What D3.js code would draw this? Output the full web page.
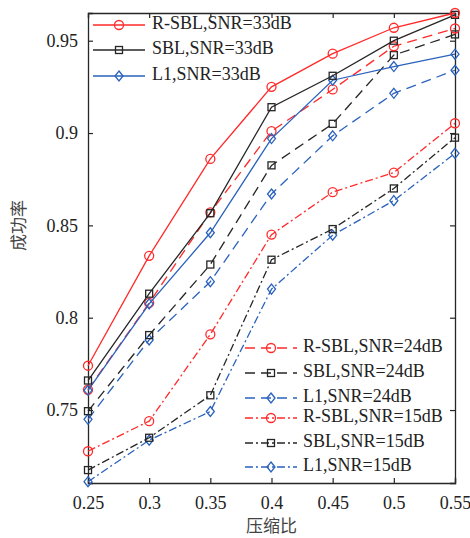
<!DOCTYPE html>
<html>
<head>
<meta charset="utf-8">
<script src="https://cdn.jsdelivr.net/npm/d3@7"></script>
<style>
  body { margin: 0; background: #fff; }
  text { font-family: "Liberation Serif", "Times New Roman", serif; }
</style>
</head>
<body>
<div id="chart"></div>
<script>
// Compression ratios on the x axis.
const ratios = [0.25, 0.3, 0.35, 0.4, 0.45, 0.5, 0.55];

// Success rate for each method / SNR.
const rsbl33 = [0.774, 0.8335, 0.886, 0.925, 0.943, 0.957, 0.965];
const sbl33 = [0.766, 0.813, 0.8566, 0.914, 0.931, 0.950, 0.964];
const l1_33 = [0.7607, 0.8075, 0.846, 0.897, 0.9286, 0.936, 0.9427];
const rsbl24 = [0.761, 0.808, 0.857, 0.901, 0.9236, 0.947, 0.9566];
const sbl24 = [0.7494, 0.7906, 0.8288, 0.8825, 0.905, 0.9422, 0.9534];
const l1_24 = [0.745, 0.788, 0.8195, 0.867, 0.8985, 0.9215, 0.934];
const rsbl15 = [0.7277, 0.744, 0.791, 0.845, 0.868, 0.8786, 0.9053];
const sbl15 = [0.7175, 0.735, 0.758, 0.8314, 0.848, 0.870, 0.8975];
const l1_15 = [0.7112, 0.7337, 0.7492, 0.8155, 0.8447, 0.8634, 0.889];

const xTicks = [0.25, 0.3, 0.35, 0.4, 0.45, 0.5, 0.55];
const yTicks = [0.75, 0.8, 0.85, 0.9, 0.95];

const RED = "#ff2a2a", BLACK = "#262626", BLUE = "#2a62bd";
const SOLID = null, DASH = "10,6", DASHDOT = "8,3,2,3";

const series = [
    { name: "R-SBL,SNR=33dB", values: rsbl33, color: RED, dash: SOLID, marker: "circle" },
    { name: "SBL,SNR=33dB", values: sbl33, color: BLACK, dash: SOLID, marker: "square" },
    { name: "L1,SNR=33dB", values: l1_33, color: BLUE, dash: SOLID, marker: "diamond" },
    { name: "R-SBL,SNR=24dB", values: rsbl24, color: RED, dash: DASH, marker: "circle" },
    { name: "SBL,SNR=24dB", values: sbl24, color: BLACK, dash: DASH, marker: "square" },
    { name: "L1,SNR=24dB", values: l1_24, color: BLUE, dash: DASH, marker: "diamond" },
    { name: "R-SBL,SNR=15dB", values: rsbl15, color: RED, dash: DASHDOT, marker: "circle" },
    { name: "SBL,SNR=15dB", values: sbl15, color: BLACK, dash: DASHDOT, marker: "square" },
    { name: "L1,SNR=15dB", values: l1_15, color: BLUE, dash: DASHDOT, marker: "diamond" }
];

const width = 470, height = 538;
const margin = { top: 13, right: 15, bottom: 55, left: 88 };

const svg = d3.select("#chart")
    .append("svg")
    .attr("width", width)
    .attr("height", height);

const x = d3.scaleLinear()
    .domain([0.25, 0.55])
    .range([margin.left, width - margin.right]);

const y = d3.scaleLinear()
    .domain([0.7105, 0.965])
    .range([height - margin.bottom, margin.top]);

// Axes with inward ticks on all four sides.
const tickLen = 5;
svg.append("g")
    .attr("transform", `translate(0,${height - margin.bottom})`)
    .call(d3.axisBottom(x).tickValues(xTicks).tickSize(-tickLen).tickPadding(13)
        .tickFormat(d => String(+d.toFixed(2))));
svg.append("g")
    .attr("transform", `translate(0,${margin.top})`)
    .call(d3.axisTop(x).tickValues(xTicks).tickSize(-tickLen).tickFormat(""));
svg.append("g")
    .attr("transform", `translate(${margin.left},0)`)
    .call(d3.axisLeft(y).tickValues(yTicks).tickSize(-tickLen).tickPadding(10)
        .tickFormat(d => String(+d.toFixed(2))));
svg.append("g")
    .attr("transform", `translate(${width - margin.right},0)`)
    .call(d3.axisRight(y).tickValues(yTicks).tickSize(-tickLen).tickFormat(""));

svg.selectAll(".domain").attr("stroke", BLACK).attr("stroke-width", 1.3);
svg.selectAll(".tick line").attr("stroke", BLACK).attr("stroke-width", 1.2);
svg.selectAll(".tick text")
    .attr("fill", "#222")
    .style("font-size", "18px")
    .style("font-family", "'Liberation Serif', serif");

// Axis titles.
svg.append("text")
    .attr("x", (margin.left + width - margin.right) / 2)
    .attr("y", 527)
    .attr("text-anchor", "middle")
    .attr("dominant-baseline", "middle")
    .style("font-family", "'Noto Sans CJK SC', sans-serif")
    .style("font-size", "17px")
    .attr("fill", "#444")
    .text("压缩比");

svg.append("text")
    .attr("transform", `translate(20,${y(0.85)}) rotate(-90)`)
    .attr("text-anchor", "middle")
    .attr("dominant-baseline", "middle")
    .style("font-family", "'Noto Sans CJK SC', sans-serif")
    .style("font-size", "17px")
    .attr("fill", "#444")
    .text("成功率");

function drawMarker(g, type, cx, cy, color) {
    if (type === "circle") {
        g.append("circle").attr("cx", cx).attr("cy", cy).attr("r", 4.5)
            .attr("fill", "none").attr("stroke", color).attr("stroke-width", 1.3);
    } else if (type === "square") {
        g.append("rect").attr("x", cx - 3.5).attr("y", cy - 3.5)
            .attr("width", 7).attr("height", 7)
            .attr("fill", "none").attr("stroke", color).attr("stroke-width", 1.3);
    } else {
        g.append("path")
            .attr("d", `M${cx},${cy - 5}L${cx + 4},${cy}L${cx},${cy + 5}L${cx - 4},${cy}Z`)
            .attr("fill", "none").attr("stroke", color).attr("stroke-width", 1.3);
    }
}

const line = d3.line()
    .x((d, i) => x(ratios[i]))
    .y(d => y(d));

// Draw lines then markers, weakest series first so 33 dB sits on top.
const plot = svg.append("g");
series.slice().reverse().forEach(s => {
    plot.append("path")
        .attr("d", line(s.values))
        .attr("fill", "none")
        .attr("stroke", s.color)
        .attr("stroke-width", 1.3)
        .attr("stroke-dasharray", s.dash);
    s.values.forEach((v, i) => drawMarker(plot, s.marker, x(ratios[i]), y(v), s.color));
});

// Legends (no box drawn, lines stay visible behind).
function legend(items, rows, lineX0, lineX1, textX) {
    const g = svg.append("g");
    items.forEach((s, i) => {
        const yy = rows[i];
        g.append("line")
            .attr("x1", lineX0).attr("x2", lineX1)
            .attr("y1", yy).attr("y2", yy)
            .attr("stroke", s.color).attr("stroke-width", 1.3)
            .attr("stroke-dasharray", s.dash);
        drawMarker(g, s.marker, (lineX0 + lineX1) / 2, yy, s.color);
        g.append("text")
            .attr("x", textX).attr("y", yy)
            .attr("dominant-baseline", "middle")
            .style("font-size", "18px")
            .attr("fill", "#222")
            .text(s.name);
    });
}

legend(series.slice(0, 3), [25, 50, 76], 93, 145, 152);
legend(series.slice(3), [348, 373, 398, 418, 443, 467], 245, 297, 303);
</script>
</body>
</html>
